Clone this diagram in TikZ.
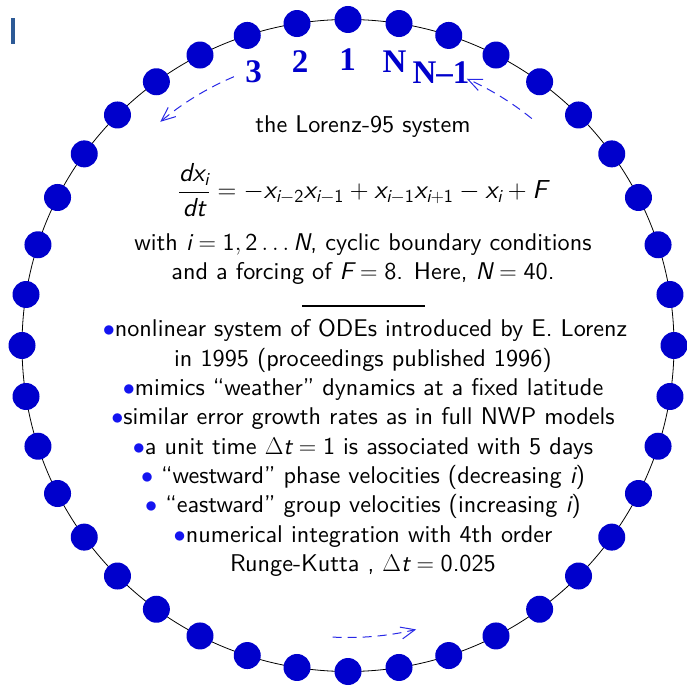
\documentclass[tikz,border=0pt]{standalone}
\usepackage{fix-cm}
\usepackage{amsmath}
\usepackage{fontspec}
\setsansfont{lmsans10-regular.otf}[ItalicFont=lmsans10-oblique.otf,BoldFont=lmsans10-bold.otf]
\newfontfamily\timesfont{Liberation Serif}
\usetikzlibrary{arrows.meta,calc}
\newcommand\sv[1]{\text{\sffamily\itshape #1}}
\newcommand\sn[1]{\text{\sffamily #1}}
\definecolor{dotblue}{RGB}{0,0,204}
\definecolor{bulblue}{RGB}{20,20,240}
\definecolor{arrblue}{RGB}{40,40,230}
\definecolor{barblue}{RGB}{45,90,150}
\newcommand\bul{{\color{bulblue}$\bullet$}}
\tikzset{
  dotnode/.style={circle,fill=dotblue,minimum size=27pt,inner sep=0},
  lbl/.style={text=dotblue,inner sep=0,font=\timesfont\bfseries\fontsize{33}{33}\selectfont},
  body/.style={anchor=base,inner sep=0,font=\sffamily\fontsize{24.2}{29.3}\selectfont},
  darr/.style={arrblue,line width=1pt,dash pattern=on 9pt off 6pt,-{Straight Barb[length=14pt,width=12pt]}}
}
\begin{document}
\begin{tikzpicture}[x=1pt,y=1pt]
\useasboundingbox (0,0) rectangle (687,685);
\fill[barblue] (11,641) rectangle (15,667);
\coordinate (c) at (348,339.5);
\draw[line width=0.8pt] (c) circle (326);
\foreach \k in {1,...,40}{
  \node[dotnode] (d\k) at ($(c)+({90+9*(\k-1)}:326)$) {};
}
\node[lbl] (l3) at (253.5,613.5) {3};
\node[lbl] (l2) at (300,623.5) {2};
\node[lbl] (l1) at (347.5,625) {1};
\node[lbl] (lN) at (394.5,623.5) {N};
\node[lbl] (lNm) at (441,612.5) {N–1};
% dashed arrows
\coordinate (a1s) at ($(c)+(113:292)$);
\draw[darr] (a1s) arc[start angle=113,end angle=130,radius=292];
\coordinate (a2s) at ($(c)+(51:292)$);
\draw[darr] (a2s) arc[start angle=51,end angle=66,radius=292];
\coordinate (a3s) at ($(c)+(267:292)$);
\draw[darr] (a3s) arc[start angle=267,end angle=283.5,radius=292];
% text
\node[body] (t0) at (363,552) {the Lorenz-95 system};
\node[body,anchor=center,font=\sffamily\fontsize{26}{30}\selectfont] (eq) at (362.5,495) {$\displaystyle\frac{\sv{dx}_{\sv{i}}}{\sv{dt}} = -\sv{x}_{\sv{i}-\sn{2}}\sv{x}_{\sv{i}-\sn{1}} + \sv{x}_{\sv{i}-\sn{1}}\sv{x}_{\sv{i}+\sn{1}} - \sv{x}_{\sv{i}} + \sv{F}$};
\node[body] (t1) at (363,434) {with $\sv{i} = \sn{1}, \sn{2}\ldots \sv{N}$, cyclic boundary conditions};
\node[body] (t2) at (363,405) {and a forcing of $\sv{F} = \sn{8}$. Here, $\sv{N} = \sn{40}$.};
\coordinate (r1) at (302,379);
\coordinate (r2) at (425,379);
\draw[line width=2pt] (r1) -- (r2);
\node[body] (b1) at (365,348) {\bul nonlinear system of ODEs introduced by E. Lorenz};
\node[body] (b2) at (363,318.7) {in 1995 (proceedings published 1996)};
\node[body] (b3) at (363,289.4) {\bul mimics ``weather'' dynamics at a fixed latitude};
\node[body] (b4) at (363,260.1) {\bul similar error growth rates as in full NWP models};
\node[body] (b5) at (363,230.8) {\bul a unit time $\Delta \sv{t} = \sn{1}$ is associated with 5 days};
\node[body] (b6) at (363,201.5) {\bul\ ``westward'' phase velocities (decreasing $\sv{i}$)};
\node[body] (b7) at (363,172.2) {\bul\ ``eastward'' group velocities (increasing $\sv{i}$)};
\node[body] (b8) at (363,142.9) {\bul numerical integration with 4th order};
\node[body] (b9) at (363,113.6) {Runge-Kutta , $\Delta \sv{t} = \sn{0.025}$};
\end{tikzpicture}
\end{document}
